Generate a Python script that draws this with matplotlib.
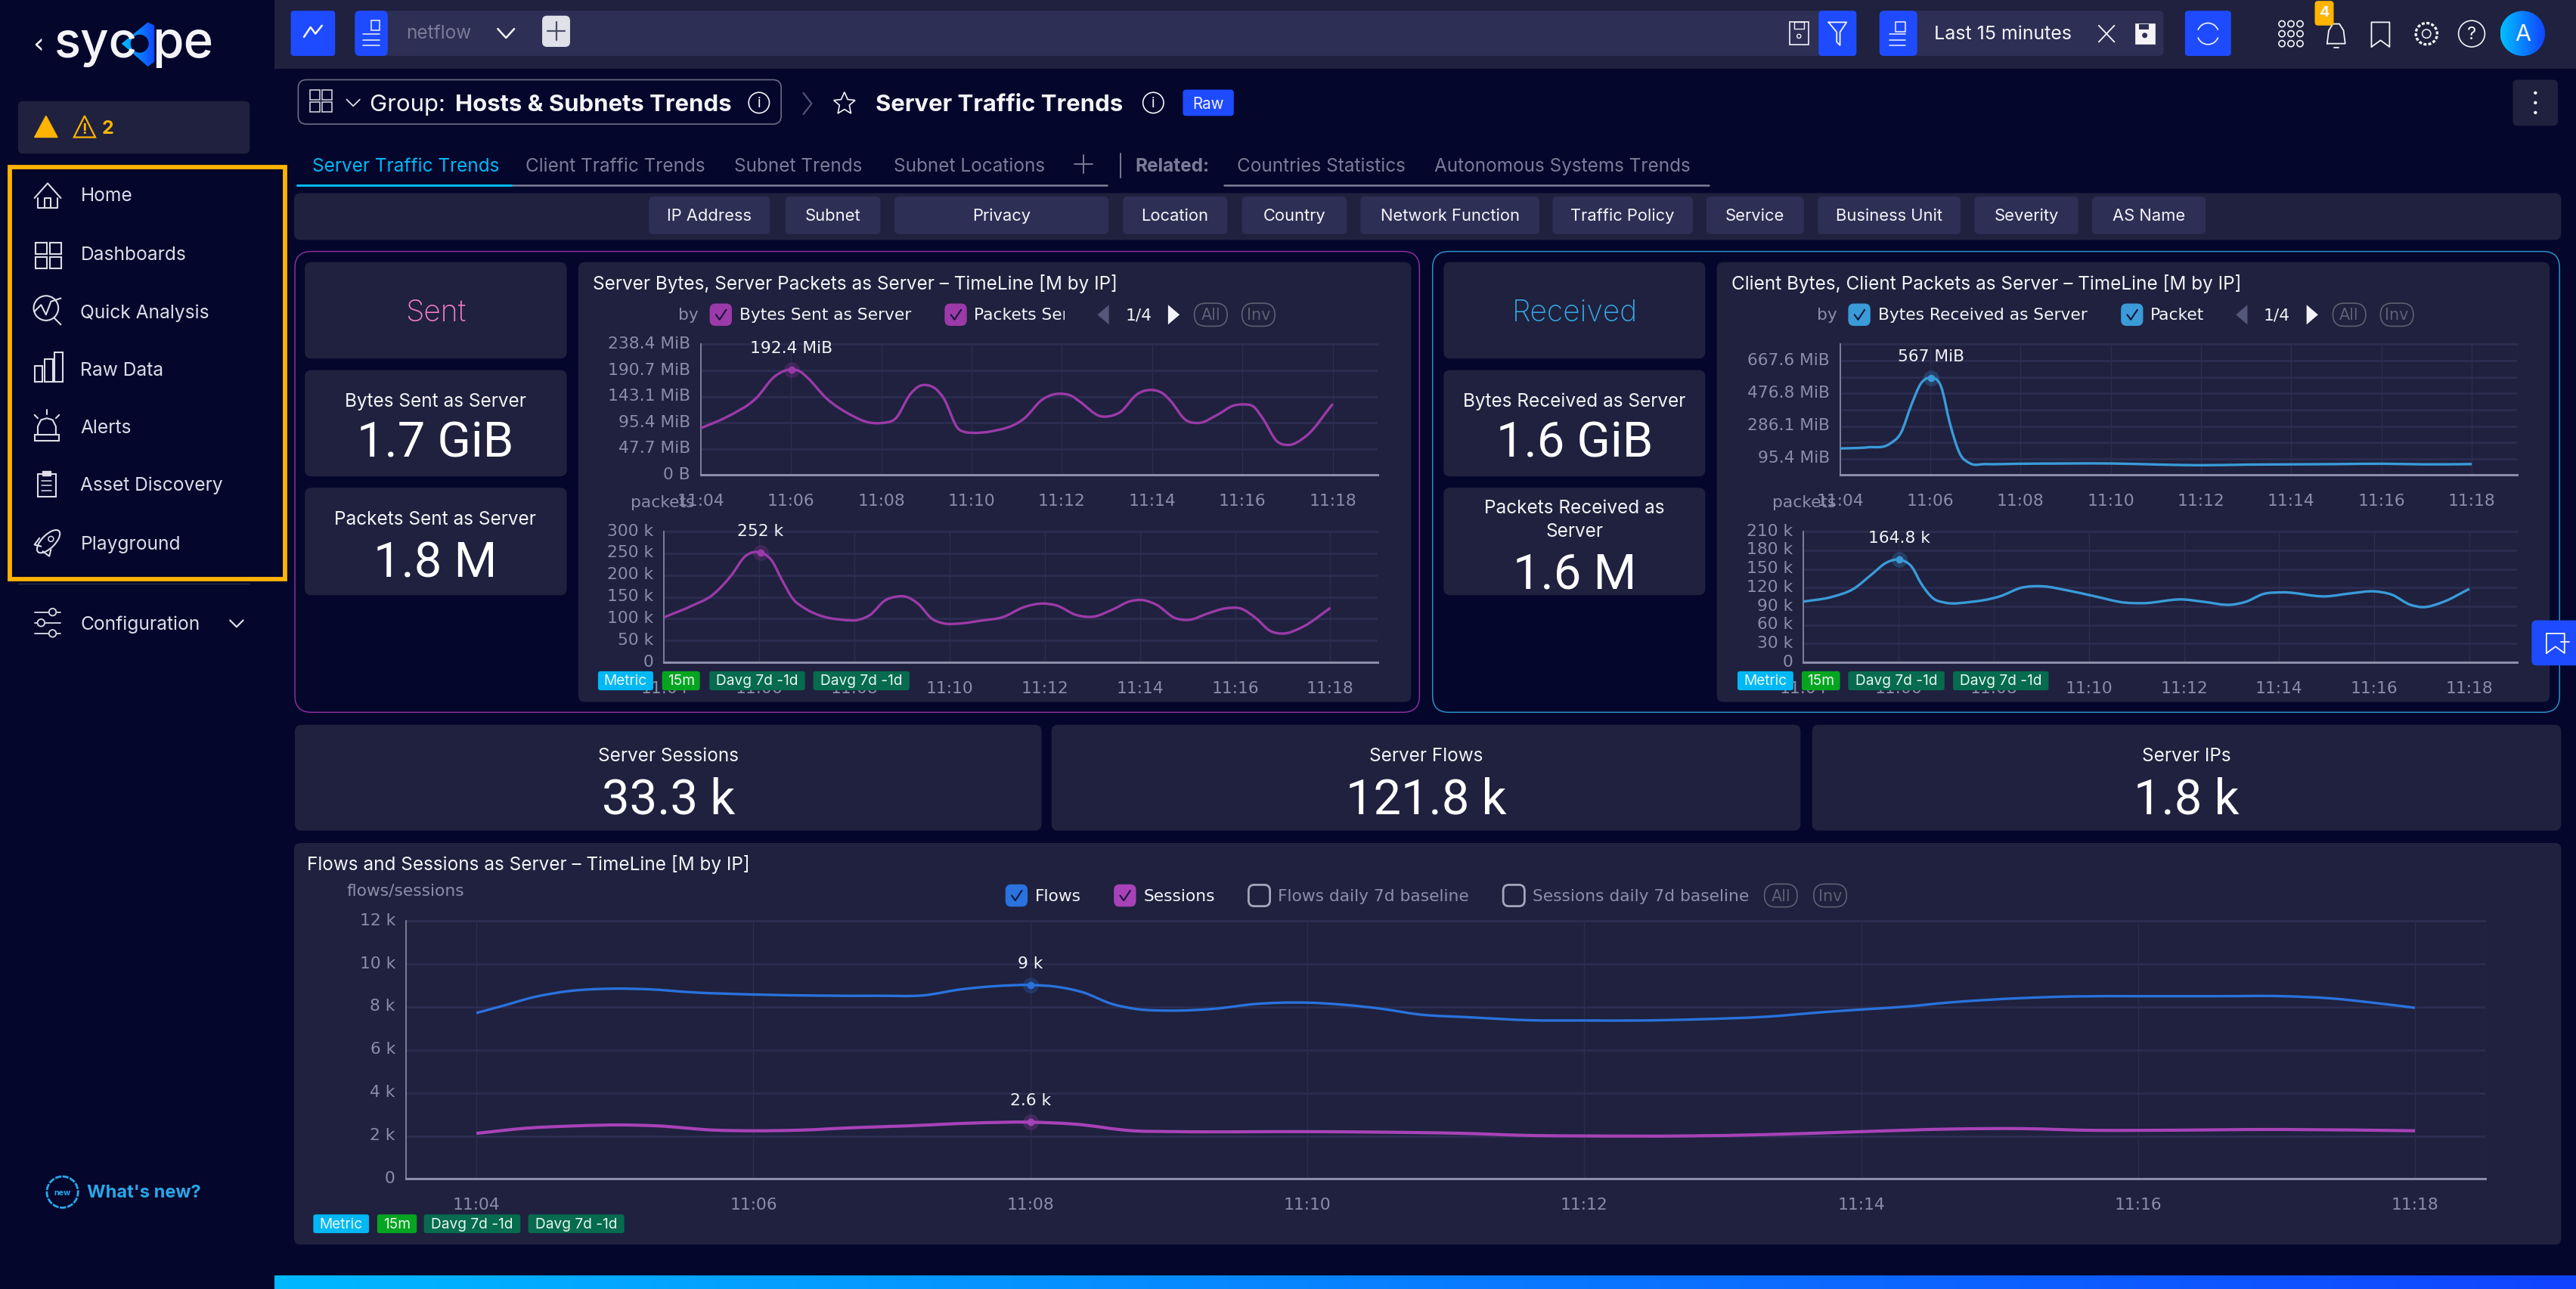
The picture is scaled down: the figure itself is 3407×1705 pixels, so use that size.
"""
Sycope dashboard screenshot: Server Traffic Trends
"""

import numpy as np
import matplotlib
matplotlib.use('Agg')
import matplotlib.pyplot as plt
from matplotlib.patches import FancyBboxPatch, Circle, Polygon, Rectangle, Ellipse, Arc, PathPatch
from matplotlib.path import Path
from matplotlib.transforms import ScaledTranslation

# --- data ---
TIME_TICKS = [4, 6, 8, 10, 12, 14, 16, 18]
TIME_LABELS = ['11:04', '11:06', '11:08', '11:10', '11:12', '11:14', '11:16', '11:18']

bytes_sent_min = [4.0, 4.58, 5.23, 5.64, 5.85, 6.01, 6.2, 6.37, 6.78, 7.35, 7.67, 8.0, 8.32, 8.65, 8.85, 9.0,
                  9.22, 9.38, 9.7, 9.87, 10.03, 10.43, 11.17, 11.57, 11.82, 11.98, 12.22, 12.38, 12.87, 13.12,
                  13.28, 13.68, 13.85, 14.01, 14.25, 14.41, 14.74, 15.03, 15.47, 15.8, 16.01, 16.25, 16.45,
                  16.77, 17.01, 17.42, 18.0]
bytes_sent = [85.4, 106.0, 140.3, 179.8, 189.9, 192.4, 188.8, 177.2, 140.3, 108.6, 97.0, 94.9, 103.4, 148.2, 162.4,
              164.0, 156.1, 140.3, 84.9, 78.1, 77.0, 79.6, 103.4, 137.7, 147.1, 148.2, 144.0, 135.0, 107.0, 108.6,
              114.0, 148.0, 154.0, 155.0, 148.0, 135.0, 100.7, 95.0, 111.0, 126.6, 128.7, 124.5, 103.4,
              61.2, 54.8, 71.7, 129.7]

packets_sent_min = [4.0, 4.56, 5.02, 5.4, 5.71, 6.02, 6.25, 6.48, 6.71, 6.94, 7.33, 7.72, 8.1, 8.33, 8.64, 8.87,
                    9.1, 9.33, 9.64, 9.87, 10.26, 10.65, 11.11, 11.57, 11.96, 12.26, 12.65, 13.03, 13.42, 13.81,
                    14.04, 14.35, 14.73, 15.04, 15.42, 15.81, 16.12, 16.43, 16.74, 17.0, 17.43, 18.0]
packets_sent = [103.5, 128.8, 155, 198, 244, 252, 235, 188, 145, 125, 105.5, 98, 98, 109, 142, 150.6,
                150, 135, 99, 89.6, 89.6, 95.6, 103.5, 127, 135, 130, 109, 105, 121, 140.7,
                143, 132, 102, 97.6, 112, 124, 123.4, 102, 72, 66, 82, 124.8]

bytes_recv_min = [4.0, 4.62, 5.1, 5.35, 5.59, 5.79, 6.01, 6.24, 6.44, 6.65, 6.89, 7.21, 8.01, 9.0, 10.02, 11.11,
                  12.0, 13.06, 14.02, 15.0, 16.03, 16.95, 18.0]
bytes_recv = [155, 162, 182, 246, 415, 533, 567, 516, 297, 128, 67.5, 64, 66, 67.5, 67.5, 61,
              57.4, 61, 62.5, 64, 66, 62.5, 64]

packets_recv_min = [4.0, 4.59, 5.05, 5.43, 5.74, 6.02, 6.28, 6.47, 6.74, 6.97, 7.51, 8.13, 8.59, 9.05, 9.52, 10.13,
                    10.75, 11.13, 11.98, 12.44, 12.98, 13.29, 13.68, 14.06, 14.99, 15.53, 16.0, 16.37, 16.76,
                    17.02, 17.45, 18.0]
packets_recv = [97.6, 105, 118, 141, 160, 164.8, 153, 127, 102, 96, 97, 106, 120, 122, 116, 106,
                96, 95, 101, 97, 92.5, 97, 110, 112.4, 106, 111, 114, 108.7, 92.5,
                88.7, 97, 118]

flows_min = [4.0, 4.2, 4.41, 4.67, 4.99, 5.25, 5.56, 6.0, 6.45, 6.92, 7.23, 7.49, 7.75, 8.0, 8.19, 8.38, 8.59, 8.77,
             9.0, 9.32, 9.63, 10.0, 10.25, 10.53, 10.81, 11.17, 11.62, 12.0, 12.4, 12.85, 13.3, 13.75, 14.0, 14.31,
             14.64, 15.15, 15.54, 16.0, 16.55, 17.05, 17.39, 17.72, 18.0]
flows = [7.72, 8.07, 8.45, 8.74, 8.85, 8.82, 8.68, 8.58, 8.53, 8.52, 8.54, 8.81, 8.97, 9.02, 8.94, 8.68, 8.14, 7.9,
         7.83, 7.91, 8.14, 8.2, 8.11, 7.92, 7.65, 7.52, 7.38, 7.37, 7.37, 7.43, 7.54, 7.77, 7.88, 8.01,
         8.21, 8.41, 8.49, 8.5, 8.5, 8.5, 8.4, 8.18, 7.96]

sessions_min = [4.0, 4.36, 4.73, 5.04, 5.3, 5.72, 6.0, 6.34, 6.71, 7.12, 7.59, 8.0, 8.32, 8.74, 9.06, 10.0, 10.46,
                11.12, 11.62, 12.0, 12.74, 13.3, 14.0, 14.64, 15.15, 15.68, 16.0, 17.05, 18.0]
sessions = [2.12, 2.36, 2.47, 2.51, 2.47, 2.27, 2.24, 2.27, 2.38, 2.47, 2.6, 2.64, 2.55, 2.24, 2.2, 2.2, 2.18,
            2.12, 2.02, 2.0, 2.0, 2.06, 2.2, 2.32, 2.34, 2.26, 2.26, 2.3, 2.24]

menu_items = ['Home', 'Dashboards', 'Quick Analysis', 'Raw Data', 'Alerts', 'Asset Discovery', 'Playground']
filter_names = ['IP Address', 'Subnet', 'Privacy', 'Location', 'Country', 'Network Function', 'Traffic Policy',
                'Service', 'Business Unit', 'Severity', 'AS Name']

BG = '#04062b'
PANEL = '#1f213e'
CHIP = '#2d2f55'
BLUE = '#1e4bff'
GRID = '#2c2d50'
TICK = '#8b8ea8'
MUTED = '#7a7c97'
WHITE = '#f4f4f8'
AMBER = '#ffb400'
PURPLE = '#9b3aa8'
SKY = '#3a9bd8'
UI_FONT = 'Inter'
BIG_FONT = 'Roboto'
dv = 'DejaVu Sans'

W, H = 1568.0, 785.0
PT = 1.564  # one screen unit as font points

fig = plt.figure(figsize=(34.07, 17.06), dpi=100, facecolor=BG)


def overlay(z):
    a = fig.add_axes([0, 0, 1, 1], zorder=z)
    a.set_xlim(0, W)
    a.set_ylim(H, 0)
    a.axis('off')
    a.patch.set_alpha(0)
    return a


bg = overlay(0)
top = overlay(5)


def box(a, x0, y0, x1, y1, color=PANEL, r=4, ec='none', lw=0, z=1):
    p = FancyBboxPatch((x0, y0), x1 - x0, y1 - y0, boxstyle=f'round,pad=0,rounding_size={r}',
                       fc=color, ec=ec, lw=lw, zorder=z)
    a.add_patch(p)
    return p


def text(a, x, y, s, size=11.2, color=WHITE, ha='left', weight='normal', family=UI_FONT, z=10):
    return a.text(x, y + 1, s, fontsize=size * PT, color=color, ha=ha, va='center', weight=weight,
                  family=family, zorder=z)


def big(x, y, s):
    return text(top, x, y, s, 30, '#ffffff', ha='center', weight='normal', family=BIG_FONT)


def line(a, xs, ys, color=WHITE, lw=1.5, z=9, **kw):
    a.plot(xs, ys, color=color, lw=lw, zorder=z, solid_capstyle='round', **kw)


def gradient(a, x0, y0, x1, y1, c0, c1, z=2):
    rgb0 = np.array(matplotlib.colors.to_rgb(c0))
    rgb1 = np.array(matplotlib.colors.to_rgb(c1))
    t = np.linspace(0, 1, 256)[None, :, None]
    img = rgb0 + (rgb1 - rgb0) * t
    im = a.imshow(img, extent=(x0, x1, y1, y0), aspect='auto', zorder=z)
    a.set_xlim(0, W)
    a.set_ylim(H, 0)
    return im


# --- page chrome ---
bg.add_patch(Rectangle((167, 0), W - 167, 42.5, fc=PANEL, ec='none', zorder=1))
gradient(bg, 167, 777, W, 785, '#00b8ff', '#1144ff')

# logo
text(top, 20, 26, '‹', 17, WHITE, family=dv)
text(top, 33, 26, 'syc', 30, WHITE, weight='medium')
gr = gradient(top, 74, 14, 94, 41, '#00c0ff', '#1144ff')
gr.set_clip_path(Polygon([(74, 27), (90, 14), (94, 16), (94, 38), (90, 41)], transform=top.transData))
top.add_patch(Circle((85, 27), 5.5, fc=BG, ec='none', zorder=4))
text(top, 92.5, 26, 'pe', 31, WHITE, weight='medium')

# alert box
box(bg, 11, 62, 152, 94, PANEL, 3)
top.add_patch(Polygon([(21, 84), (28, 71), (35, 84)], closed=True, fc=AMBER, ec=AMBER, lw=1, zorder=9))
top.add_patch(Polygon([(45, 84), (51.5, 71), (58, 84)], closed=True, fc='none', ec=AMBER, lw=1.6, zorder=9))
text(top, 51.5, 78, '!', 9, AMBER, ha='center', weight='bold')
text(top, 62, 77.5, '2', 11.5, AMBER, weight='bold')

# orange frame
top.add_patch(Rectangle((6, 102), 167.5, 251, fc='none', ec=AMBER, lw=4.2, zorder=8))
line(bg, [11, 152], [355.5, 355.5], '#2a2c4c', 1)

menu_y = [119, 155, 190, 225, 260, 295, 331]
for name, yy in zip(menu_items, menu_y):
    text(top, 49, yy - 0.5, name, 11.3, '#dcdde8')
text(top, 49, 379, 'Configuration', 11.3, '#dcdde8')
line(top, [140, 144, 148], [378, 382, 378], '#dcdde8', 1.6)

ic = '#dcdde8'
# home
line(top, [21, 29, 37], [121, 112, 121], ic)
line(top, [23, 23, 35, 35], [121, 127, 127, 121], ic)
line(top, [27, 27, 31, 31], [127, 121, 121, 127], ic)
# dashboards
for xx, yy in [(21.5, 148), (30.5, 148), (21.5, 157), (30.5, 157)]:
    top.add_patch(Rectangle((xx, yy), 7, 7, fc='none', ec=ic, lw=1.5, zorder=9))
# quick analysis
top.add_patch(Circle((28, 188), 7.5, fc='none', ec=ic, lw=1.5, zorder=9))
line(top, [21, 25, 28, 31, 37], [190, 186, 192, 184, 182], ic)
line(top, [33, 37], [194, 198], ic)
# raw data
for xx, hh in [(21, 10), (27, 14), (33, 18)]:
    top.add_patch(Rectangle((xx, 233 - hh), 5, hh, fc='none', ec=ic, lw=1.5, zorder=9))
# alerts
top.add_patch(Rectangle((21, 265), 15, 3.5, fc='none', ec=ic, lw=1.5, zorder=9))
line(top, [23, 23, 25, 28.5, 32, 34, 34], [265, 260, 256, 255, 256, 260, 265], ic)
line(top, [28.5, 28.5], [250, 252.5], ic)
line(top, [21, 23], [253, 255], ic)
line(top, [36, 34], [253, 255], ic)
# asset discovery
top.add_patch(Rectangle((23, 289), 11, 14, fc='none', ec=ic, lw=1.5, zorder=9))
top.add_patch(Rectangle((26, 287), 5, 3, fc=ic, ec=ic, lw=1, zorder=9))
for yy in [293, 296, 299]:
    line(top, [25.5, 31.5], [yy, yy], ic, 1.1)
# playground
top.add_patch(Ellipse((29.5, 330), 8, 18, angle=45, fc='none', ec=ic, lw=1.5, zorder=9))
top.add_patch(Circle((31, 328.5), 1.6, fc='none', ec=ic, lw=1.1, zorder=9))
line(top, [24, 21, 25], [328, 332, 333], ic)
line(top, [31, 30, 26], [335, 339, 336], ic)
# configuration
for yy, cx in [(373, 32), (379.5, 25), (386, 32)]:
    line(top, [21, 37], [yy, yy], ic, 1.3)
    top.add_patch(Circle((cx, yy), 2.2, fc=BG, ec=ic, lw=1.3, zorder=10))

# what's new
top.add_patch(Circle((38, 726), 9.5, fc='none', ec='#2aa7e8', lw=2, ls=(0, (3, 0.6)), zorder=9))
text(top, 38, 725, 'new', 5, '#2aa7e8', ha='center', weight='bold')
text(top, 53, 725, "What's new?", 10.9, '#2aa7e8', weight='bold')

# top bar
box(bg, 177, 7, 204, 34.5, BLUE, 2, z=2)
line(top, [185, 189, 192, 196], [23, 17, 21, 16], WHITE, 1.8)
box(bg, 216, 7, 1130, 34.5, CHIP, 3, z=2)
box(bg, 216, 7, 236, 34.5, BLUE, 3, z=3)
for yy in [21, 25, 28]:
    line(top, [221, 231], [yy, yy], WHITE, 1.1)
top.add_patch(Rectangle((226, 13), 5, 6, fc='none', ec=WHITE, lw=1.1, zorder=9))
text(top, 247, 19.5, 'netflow', 11.2, MUTED)
line(top, [303, 308, 313], [18, 23.5, 18], WHITE, 1.8)
box(top, 330, 10, 347, 29, '#dfe0e8', 3, z=4)
line(top, [338.5, 338.5], [14, 25], '#4a4c68', 1.6)
line(top, [333, 344], [19.5, 19.5], '#4a4c68', 1.6)
top.add_patch(Rectangle((1089.5, 14), 11.5, 13.5, fc='none', ec=WHITE, lw=1.2, zorder=9))
top.add_patch(Rectangle((1092, 14), 6, 4, fc='none', ec=WHITE, lw=1, zorder=9))
top.add_patch(Circle((1095, 22.5), 1.2, fc='none', ec=WHITE, lw=1, zorder=9))
box(bg, 1107, 7, 1130, 34.5, BLUE, 2, z=3)
line(top, [1113, 1124, 1120, 1120, 1118, 1118, 1113], [14, 14, 20, 28, 26, 20, 14], WHITE, 1.3)

box(bg, 1144, 7, 1317, 34.5, CHIP, 3, z=2)
box(bg, 1144, 7, 1167, 34.5, BLUE, 3, z=3)
for yy in [21, 25, 28]:
    line(top, [1150, 1160], [yy, yy], WHITE, 1.1)
top.add_patch(Rectangle((1154, 14), 6, 6, fc='none', ec=WHITE, lw=1.1, zorder=9))
text(top, 1219, 20, 'Last 15 minutes', 11.5, WHITE, ha='center')
line(top, [1277.5, 1287], [16, 26], WHITE, 1.3)
line(top, [1277.5, 1287], [26, 16], WHITE, 1.3)
top.add_patch(Rectangle((1299.5, 14.5), 12, 12.5, fc=WHITE, ec=WHITE, lw=0.5, zorder=9))
top.add_patch(Circle((1305.5, 22), 1.6, fc=CHIP, ec='none', zorder=10))
top.add_patch(Rectangle((1302, 15), 6, 3.5, fc=CHIP, ec='none', zorder=10))
box(bg, 1330, 7, 1358, 34.5, BLUE, 2, z=2)
top.add_patch(Arc((1344, 21), 13, 13, theta1=200, theta2=340, ec=WHITE, lw=1.2, zorder=9))
top.add_patch(Arc((1344, 21), 13, 13, theta1=20, theta2=160, ec=WHITE, lw=1.2, zorder=9))

for gx in [1389, 1394.5, 1400]:
    for gy in [15, 21, 27]:
        top.add_patch(Circle((gx, gy), 1.9, fc='none', ec=WHITE, lw=1.2, zorder=9))
# bell
line(top, [1416.5, 1417.5, 1420, 1424, 1426.5, 1427.5, 1416.5], [27, 19, 15, 15, 19, 27, 27], WHITE, 1.3)
line(top, [1420.5, 1423.5], [29.5, 29.5], WHITE, 1.3)
box(top, 1409, 1, 1420.5, 16, AMBER, 2, z=11)
text(top, 1415, 7, '4', 9, WHITE, ha='center', weight='bold', z=12)
line(top, [1443.5, 1443.5, 1454.5, 1454.5, 1449, 1443.5], [29, 14, 14, 29, 25, 29], WHITE, 1.3)
# gear, help
top.add_patch(Circle((1477, 21), 6.5, fc='none', ec=WHITE, lw=2.4, ls=(0, (1.2, 0.7)), zorder=9))
top.add_patch(Circle((1477, 21), 2.6, fc='none', ec=WHITE, lw=1.1, zorder=9))
top.add_patch(Circle((1504.5, 21), 8, fc='none', ec=WHITE, lw=1.2, zorder=9))
text(top, 1504.5, 20, '?', 11, WHITE, ha='center')
# avatar
gr = gradient(top, 1522, 7, 1549, 34.5, '#00c0ff', '#1144ff')
gr.set_clip_path(Circle((1535.5, 20.8), 13.7, transform=top.transData))
text(top, 1535.5, 20, 'A', 14, WHITE, ha='center')

# group header
box(bg, 181.5, 49, 475.5, 76, BG, 5, ec='#6a6c86', lw=1.2, z=2)
for xx, yy in [(188.5, 55), (196, 55), (188.5, 62.5), (196, 62.5)]:
    top.add_patch(Rectangle((xx, yy), 6, 6, fc='none', ec=ic, lw=1.1, zorder=9))
line(top, [211, 215, 219], [61, 65, 61], ic, 1.3)
text(top, 225, 63, 'Group: ', 14.3, WHITE)
text(top, 277, 63, 'Hosts & Subnets Trends', 14.3, WHITE, weight='bold')
for cx, cy in [(462, 63), (702, 63)]:
    top.add_patch(Circle((cx, cy), 6.3, fc='none', ec=WHITE, lw=1.2, zorder=9))
    text(top, cx, cy - 1, 'i', 9, WHITE, ha='center')
line(top, [489, 494, 489], [57, 63.5, 70], '#55577a', 1.5)
top.add_patch(Polygon([(514, 56.5), (516, 61), (520.5, 61.5), (517, 64.5), (518, 69.5), (514, 67), (510, 69.5),
                       (511, 64.5), (507.5, 61.5), (512, 61)], closed=True, fc='none', ec=WHITE, lw=1.2, zorder=9))
text(top, 533, 63, 'Server Traffic Trends', 14.3, WHITE, weight='bold')
box(bg, 720, 55, 751, 71, BLUE, 2, z=2)
text(top, 735.5, 62.5, 'Raw', 9.5, WHITE, ha='center')
box(bg, 1529.5, 49, 1557, 77, PANEL, 3, z=2)
for yy in [57, 63, 69]:
    top.add_patch(Circle((1543.3, yy), 1, fc=WHITE, ec='none', zorder=9))

# tabs
text(top, 190, 100.5, 'Server Traffic Trends', 11.2, '#00b8f5')
for xx, s in [(320, 'Client Traffic Trends'), (447, 'Subnet Trends'), (544, 'Subnet Locations'),
              (753, 'Countries Statistics'), (873, 'Autonomous Systems Trends')]:
    text(top, xx, 100.5, s, 11.2, MUTED)
text(top, 691, 100.5, 'Related:', 11.2, MUTED, weight='bold')
line(top, [659.5, 659.5], [95, 106], MUTED, 1.4)
line(top, [654, 665], [100.5, 100.5], MUTED, 1.4)
line(top, [682, 682], [94, 108.5], MUTED, 1.4)
line(bg, [181, 674], [113, 113], '#7f8098', 1.8)
line(bg, [745, 1040], [113, 113], '#7f8098', 1.8)
line(bg, [181, 311], [113, 113], '#00b8f5', 2.2, z=10)

# filter row
box(bg, 179, 118, 1559, 146.5, PANEL, 4, z=2)
chip_x0 = [395, 478, 544.5, 683.5, 756, 828, 945, 1038.6, 1106.5, 1201.8, 1273.4]
chip_x1 = [468.7, 536, 674.7, 747, 819.8, 937, 1030.5, 1098, 1193.5, 1265, 1342.6]
for name, x0, x1 in zip(filter_names, chip_x0, chip_x1):
    box(bg, x0, 120, x1, 143, CHIP, 3, z=3)
    text(top, (x0 + x1) / 2, 130.5, name, 10.1, WHITE, ha='center')

# framed panels
box(bg, 179.5, 153.5, 864, 434, BG, 10, ec='#8a2f9c', lw=1.1, z=2)
box(bg, 872, 153.5, 1558, 434, BG, 10, ec='#2a90c8', lw=1.1, z=2)

card_y = [(160, 218.7), (225.7, 290.4), (297.3, 362.7)]
for cx0, cx1 in [(185.5, 345), (878.7, 1038)]:
    for y0, y1 in card_y:
        box(bg, cx0, y0, cx1, y1, PANEL, 4, z=3)
box(bg, 352, 160, 859, 427.7, PANEL, 4, z=3)
box(bg, 1045, 160, 1552, 427.7, PANEL, 4, z=3)

text(top, 265, 189.5, 'Sent', 18, '#f27cca', ha='center', weight='light')
text(top, 958.5, 189.5, 'Received', 18, '#36a6e2', ha='center', weight='light')
text(top, 265, 243.5, 'Bytes Sent as Server', 11.2, WHITE, ha='center')
big(265, 269, '1.7 GiB')
text(top, 265, 315.5, 'Packets Sent as Server', 11.2, WHITE, ha='center')
big(265, 342, '1.8 M')
text(top, 958.5, 243.5, 'Bytes Received as Server', 11.2, WHITE, ha='center')
big(958.5, 269, '1.6 GiB')
text(top, 958.5, 308.5, 'Packets Received as', 11.2, WHITE, ha='center')
text(top, 958.5, 322.5, 'Server', 11.2, WHITE, ha='center')
big(958.5, 349, '1.6 M')

# stat row
stat_boxes = [(179.5, 634), (640, 1096), (1103, 1559)]
stat_names = ['Server Sessions', 'Server Flows', 'Server IPs']
stat_vals = ['33.3 k', '121.8 k', '1.8 k']
for (x0, x1), n, v in zip(stat_boxes, stat_names, stat_vals):
    box(bg, x0, 441.6, x1, 506, PANEL, 4, z=3)
    text(top, (x0 + x1) / 2, 459.5, n, 11.2, WHITE, ha='center')
    big((x0 + x1) / 2, 486, v)

box(bg, 179, 513.5, 1559, 758, PANEL, 4, z=3)


def checkbox(x, y, color, checked=True):
    if checked:
        box(top, x, y - 6.8, x + 13.5, y + 6.8, color, 3.5, z=8)
        line(top, [x + 3.8, x + 6, x + 10], [y, y + 3, y - 3], '#14163a', 1.5)
    else:
        box(top, x, y - 6.5, x + 13, y + 6.5, 'none', 3.5, ec='#a4a6bc', lw=2, z=8)


def pill(cx, y, s):
    box(top, cx - 10, y - 7, cx + 10, y + 7, 'none', 7, ec='#5e5f72', lw=1.2, z=8)
    text(top, cx, y - 1, s, 9.5, '#5e5f72', ha='center', family=dv)


def badges(xs, y0, y1):
    colors = ['#00b8f5', '#05a521', '#066b4f', '#066b4f']
    names = ['Metric', '15m', 'Davg 7d -1d', 'Davg 7d -1d']
    for (x0, x1), c, n in zip(xs, colors, names):
        box(top, x0, y0, x1, y1, c, 1.5, z=8)
        text(top, (x0 + x1) / 2, (y0 + y1) / 2 - 1, n, 8.8, '#e8f6ee', ha='center')


def smooth_path(mins, vals):
    # same kind of curve the dashboard draws through its samples
    x = np.array(mins, dtype=float)
    y = np.array(vals, dtype=float)
    m = np.gradient(y, x)
    verts = [(x[0], y[0])]
    codes = [Path.MOVETO]
    for i in range(len(x) - 1):
        d = (x[i + 1] - x[i]) / 3
        verts += [(x[i] + d, y[i] + m[i] * d), (x[i + 1] - d, y[i + 1] - m[i + 1] * d), (x[i + 1], y[i + 1])]
        codes += [Path.CURVE4] * 3
    return Path(verts, codes)


def chart(rect, xlim, ymax, yticks, ylabels, ygrid):
    x0, y0, x1, y1 = rect
    ax = fig.add_axes([x0 / W, 1 - y1 / H, (x1 - x0) / W, (y1 - y0) / H], zorder=2)
    ax.patch.set_alpha(0)
    ax.set_xlim(*xlim)
    ax.set_ylim(0, ymax)
    ax.set_xticks(TIME_TICKS, TIME_LABELS)
    ax.set_yticks(yticks, ylabels)
    ax.tick_params(length=0, labelsize=10 * PT, labelcolor=TICK, pad=10)
    ax.tick_params(axis='x', pad=17)
    for t in ax.get_yticklabels():
        t.set_transform(t.get_transform() + ScaledTranslation(0, 2.5 / 72, fig.dpi_scale_trans))
    for v in ygrid:
        ax.axhline(v, color=GRID, lw=2.0, zorder=1)
    ax.axhline(ymax, color=GRID, lw=2.0, zorder=1, clip_on=False)
    for m in TIME_TICKS:
        ax.axvline(m, color=GRID, lw=1.0, zorder=1)
    ax.axvline(xlim[1], color=GRID, lw=1.0, zorder=1)
    for side in ['top', 'right']:
        ax.spines[side].set_visible(False)
    ax.spines['left'].set_color(TICK)
    ax.spines['left'].set_linewidth(1.2)
    ax.spines['bottom'].set_color(TICK)
    ax.spines['bottom'].set_linewidth(2.2)
    return ax


def series(ax, mins, vals, color, peak, lw=2.4):
    ax.add_patch(PathPatch(smooth_path(mins, vals), fc='none', ec=color, lw=lw, zorder=3, capstyle='butt'))
    i = int(np.argmax(vals))
    ax.plot(mins[i], vals[i], 'o', ms=15, color=color, alpha=0.25, mec='none', zorder=4)
    ax.plot(mins[i], vals[i], 'o', ms=7, color=color, mec='none', zorder=5)
    ax.annotate(peak, (mins[i], vals[i]), xytext=(0, 21), textcoords='offset points', ha='center', va='center',
                color=WHITE, fontsize=10 * PT, zorder=6)


# --- the five timelines ---
bytes_ticks = [0, 47.7, 95.4, 143.1, 190.7, 238.4]
ax1 = chart((426.5, 210, 838.7, 289.6), (4, 19), 238.4, bytes_ticks,
            ['0 B', '47.7 MiB', '95.4 MiB', '143.1 MiB', '190.7 MiB', '238.4 MiB'], bytes_ticks[1:-1])
series(ax1, bytes_sent_min, bytes_sent, PURPLE, '192.4 MiB')

pack_ticks = [0, 50, 100, 150, 200, 250, 300]
ax2 = chart((404.3, 324, 838.7, 403.6), (4, 19), 300, pack_ticks,
            ['0', '50 k', '100 k', '150 k', '200 k', '250 k', '300 k'], pack_ticks[1:-1])
series(ax2, packets_sent_min, packets_sent, PURPLE, '252 k')

recv_labels_at = [95.4, 286.1, 476.8, 667.6]
recv_grid = [95.4, 190.7, 286.1, 381.5, 476.8, 572.2, 667.6]
ax3 = chart((1120, 210, 1532, 289.6), (4, 19), 763, recv_labels_at,
            ['95.4 MiB', '286.1 MiB', '476.8 MiB', '667.6 MiB'], recv_grid)
series(ax3, bytes_recv_min, bytes_recv, SKY, '567 MiB')

recv_pack_ticks = [0, 30, 60, 90, 120, 150, 180, 210]
ax4 = chart((1097.8, 324, 1532, 403.6), (4, 19), 210, recv_pack_ticks,
            ['0', '30 k', '60 k', '90 k', '120 k', '150 k', '180 k', '210 k'], recv_pack_ticks[1:-1])
series(ax4, packets_recv_min, packets_recv, SKY, '164.8 k')

flow_ticks = [0, 2, 4, 6, 8, 10, 12]
ax5 = chart((247, 561, 1513, 718), (3.49, 18.51), 12, flow_ticks,
            ['0', '2 k', '4 k', '6 k', '8 k', '10 k', '12 k'], flow_ticks[1:-1])
series(ax5, flows_min, flows, '#2a72dd', '9 k', lw=2.4)
series(ax5, sessions_min, sessions, '#a842b8', '2.6 k', lw=3.0)

# chart titles and legends
text(top, 361, 172, 'Server Bytes, Server Packets as Server – TimeLine [M by IP]', 11.2, WHITE)
text(top, 1054, 172, 'Client Bytes, Client Packets as Server – TimeLine [M by IP]', 11.2, WHITE)
text(top, 187, 525, 'Flows and Sessions as Server – TimeLine [M by IP]', 11.2, WHITE)
text(top, 413, 191, 'by', 10, TICK, family=dv)
checkbox(432, 192, '#9b3aa8')
text(top, 450, 191, 'Bytes Sent as Server', 10, WHITE, family=dv)
checkbox(575, 192, '#9b3aa8')
clipped = text(top, 593, 191, 'Packets Sent as Server', 10, WHITE, family=dv)
clipped.set_clip_path(Rectangle((590, 180), 58, 24, transform=top.transData))
clipped.set_clip_on(True)
text(top, 1106, 191, 'by', 10, TICK, family=dv)
checkbox(1125, 192, SKY)
text(top, 1143, 191, 'Bytes Received as Server', 10, WHITE, family=dv)
checkbox(1291, 192, SKY)
text(top, 1309, 191, 'Packet', 10, WHITE, family=dv)
for shift in [0, 693]:
    top.add_patch(Polygon([(675 + shift, 186), (675 + shift, 198), (668 + shift, 192)], fc='#55577a', ec='none', zorder=9))
    text(top, 693 + shift, 191, '1/4', 10, WHITE, ha='center', family=dv)
    top.add_patch(Polygon([(711 + shift, 186), (711 + shift, 198), (718 + shift, 192)], fc=WHITE, ec='none', zorder=9))
    pill(737 + shift, 192, 'All')
    pill(766 + shift, 192, 'Inv')
text(top, 384, 305, 'packets', 10, TICK, family=dv)
text(top, 1079, 305, 'packets', 10, TICK, family=dv)
text(top, 211, 541.5, 'flows/sessions', 10, TICK, family=dv)
checkbox(612, 545.5, '#2a72dd')
text(top, 630, 544.5, 'Flows', 10, WHITE, family=dv)
checkbox(678, 545.5, '#a842b8')
text(top, 696, 544.5, 'Sessions', 10, WHITE, family=dv)
checkbox(760, 545.5, None, checked=False)
text(top, 778, 544.5, 'Flows daily 7d baseline', 10, TICK, family=dv)
checkbox(915, 545.5, None, checked=False)
text(top, 933, 544.5, 'Sessions daily 7d baseline', 10, TICK, family=dv)
pill(1084, 545.5, 'All')
pill(1114, 545.5, 'Inv')

badges([(364, 397.6), (403, 426), (431.8, 490), (495, 553.6)], 409, 420.6)
badges([(1057.6, 1091.6), (1096.7, 1120), (1125, 1183.6), (1188.8, 1247)], 409, 420.6)
badges([(190.7, 224.6), (229.6, 253.7), (258, 316.8), (321.5, 380)], 739.6, 751)

# floating bookmark tab
box(top, 1541, 378, 1575, 405.5, BLUE, 3, z=8)
line(top, [1550, 1550, 1561, 1561, 1555.5, 1550], [398, 386, 386, 398, 394, 398], WHITE, 1.3)
line(top, [1559, 1564], [391, 391], WHITE, 1.3)

plt.savefig('out.png', dpi=100, facecolor=BG)
